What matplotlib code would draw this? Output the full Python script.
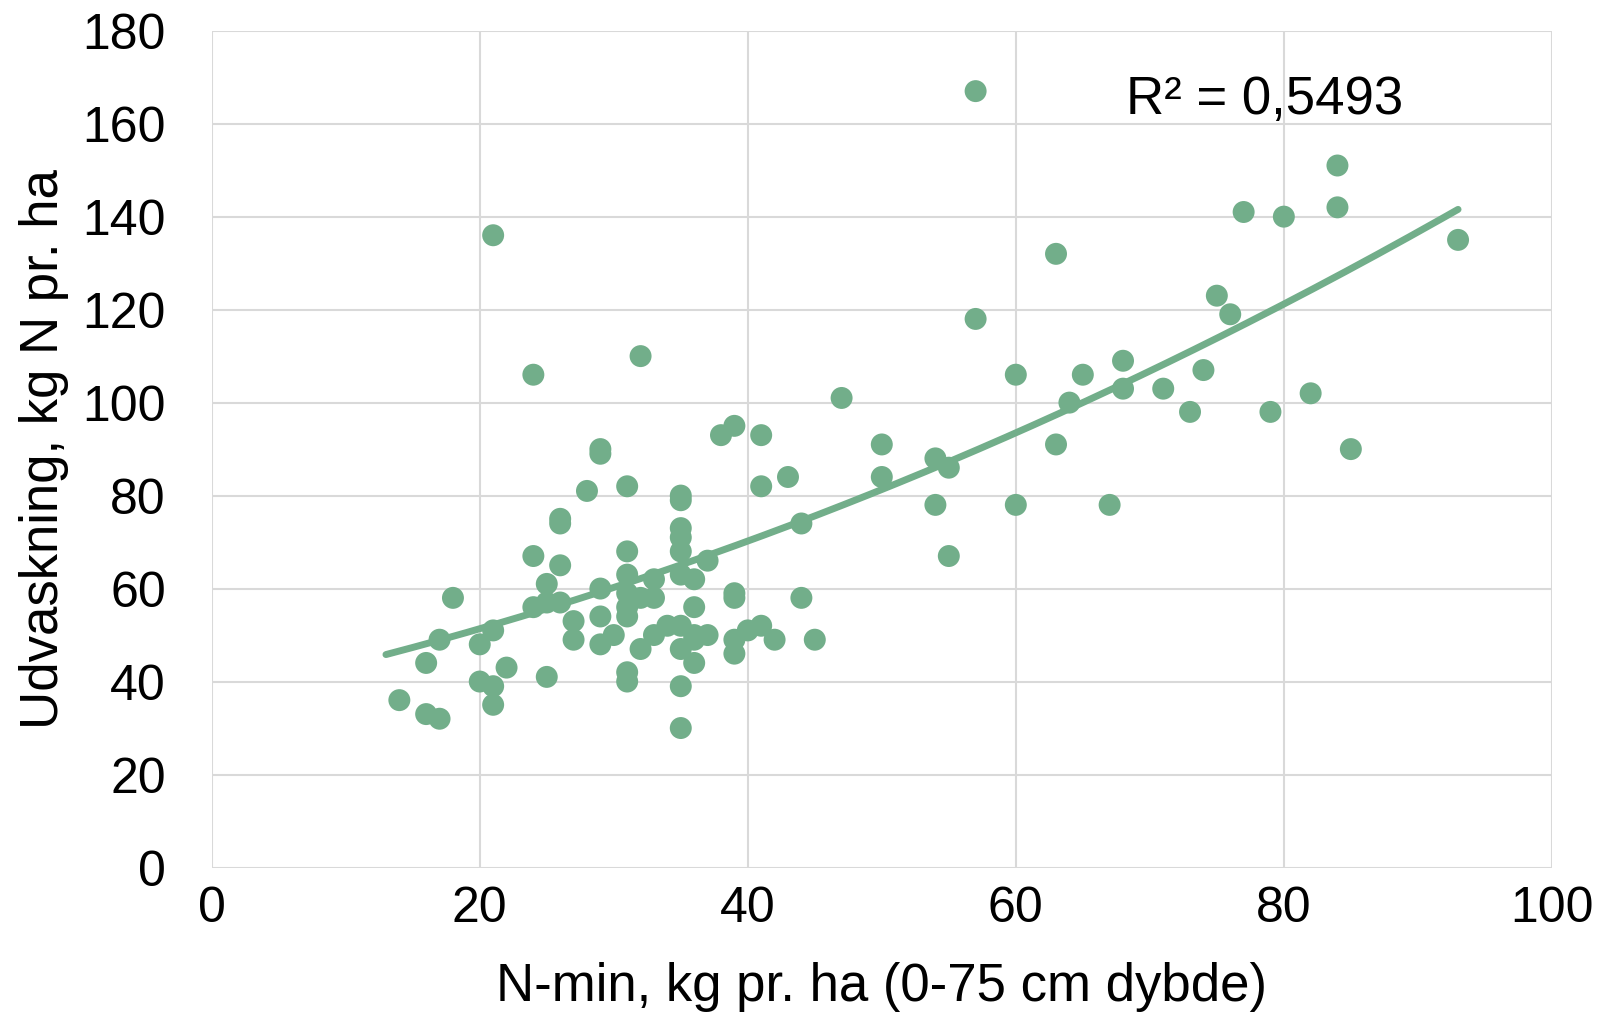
import numpy as np
import matplotlib
matplotlib.use('Agg')
import matplotlib.pyplot as plt

plt.rcParams['font.family'] = ['Liberation Sans', 'DejaVu Sans']

# N-min (kg/ha, 0-75 cm) and leaching (kg N/ha)
nmin = [14, 16, 16, 17, 17, 18, 20, 20, 21, 21, 21, 21, 22,
        24, 24, 24, 25, 25, 25, 26, 26, 26, 26, 27, 27, 28,
        29, 29, 29, 29, 29, 30, 31, 31, 31, 31, 31, 31, 31, 31,
        32, 32, 32, 33, 33, 33, 34, 35, 35, 35, 35, 35, 35, 35, 35, 35, 35,
        36, 36, 36, 36, 36, 37, 37, 38, 39, 39, 39, 39, 39, 40,
        41, 41, 41, 42, 43, 44, 44, 45, 47,
        50, 50, 54, 54, 55, 55, 57, 57, 60, 60, 63, 63, 64, 65, 67,
        68, 68, 71, 73, 74, 75, 76, 77, 79, 80, 82, 84, 84, 85, 93]
udvask = [36, 44, 33, 32, 49, 58, 48, 40, 51, 39, 35, 136, 43,
          106, 67, 56, 61, 57, 41, 75, 74, 65, 57, 53, 49, 81,
          90, 89, 60, 54, 48, 50, 82, 68, 63, 59, 56, 54, 42, 40,
          110, 58, 47, 62, 58, 50, 52, 80, 79, 73, 71, 68, 63, 52, 47, 39, 30,
          62, 56, 50, 49, 44, 66, 50, 93, 95, 59, 58, 49, 46, 51,
          93, 82, 52, 49, 84, 74, 58, 49, 101,
          91, 84, 88, 78, 86, 67, 167, 118, 106, 78, 132, 91, 100, 106, 78,
          109, 103, 103, 98, 107, 123, 119, 141, 98, 140, 102, 151, 142, 90, 135]

col = '#72ae8a'

fig = plt.figure(figsize=(16.04, 10.23), dpi=100)
ax = fig.add_axes([0.132, 0.152, 0.8355, 0.818])

ax.scatter(nmin, udvask, s=250, color=col, edgecolors='none', zorder=3)

# polynomial (2nd order) trendline
coef = np.polyfit(nmin, udvask, 2)
xs = np.linspace(13, 93, 200)
ax.plot(xs, np.polyval(coef, xs), color=col, lw=5, solid_capstyle='round', zorder=2)

ax.text(68.2, 165, 'R² = 0,5493', fontsize=38, va='center', ha='left')

ax.set_xlim(0, 100)
ax.set_ylim(0, 180)
ax.set_xticks(range(0, 101, 20))
ax.set_yticks(range(0, 181, 20))
ax.grid(True, color='#d9d9d9', lw=1.5, zorder=0)
ax.set_axisbelow(True)
for s in ax.spines.values():
    s.set_visible(False)
ax.tick_params(length=0, labelsize=36)
ax.tick_params(axis='y', pad=33)
ax.tick_params(axis='x', pad=13)

ax.set_xlabel('N-min, kg pr. ha (0-75 cm dybde)', fontsize=38, labelpad=22)
ax.set_ylabel('Udvaskning, kg N pr. ha', fontsize=38, labelpad=10)

fig.savefig('out.png', dpi=100)
